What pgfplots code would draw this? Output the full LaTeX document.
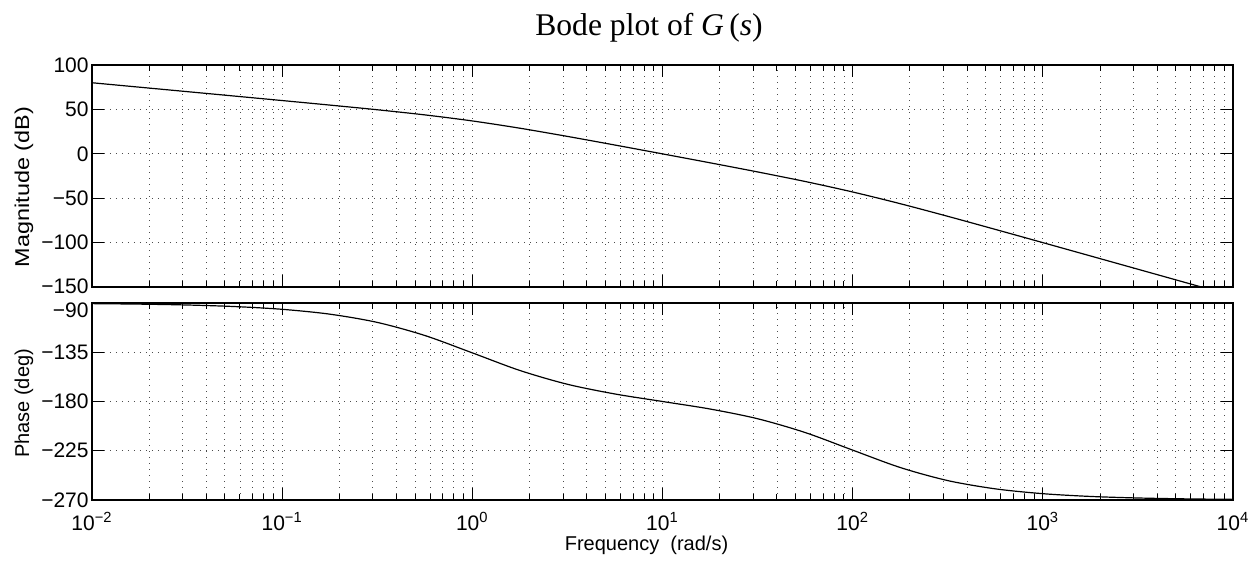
\documentclass[border=0pt]{standalone}
\usepackage{pgfplots}
\pgfplotsset{compat=1.18}
\usepackage{fontspec}
\setmainfont{Liberation Sans}
\newfontfamily\seriffont{Liberation Serif}
\usepackage{graphicx}

\pgfplotsset{
  every axis/.append style={
    scale only axis, width=570.5pt, xmin=0.01, xmax=10000,
    xtick={0.01,0.1,1,10,100,1000,10000},
    xmajorgrids, xminorgrids, ymajorgrids,
    grid style={black!70, line width=0.45pt, dash pattern=on 0.5pt off 2.5pt},
    major tick length=6pt, minor tick length=3pt,
    tick align=inside, tick pos=both,
    axis line style={line width=0.6pt},
    every tick/.style={black, line width=0.5pt},
    tick label style={font=\fontsize{10.5}{12}\selectfont},
    yticklabel style={inner sep=1.5pt},
    label style={font=\fontsize{10.4}{12}\selectfont},
  }
}

\begin{document}
\begin{tikzpicture}[x=1pt,y=1pt]
\useasboundingbox (0,0) rectangle (628.5,280.5);

\node[anchor=base, font=\seriffont\fontsize{15.8}{18}\selectfont] at (324.5,262.7) {Bode plot of \textit{G}\,(\textit{s})};

\begin{semilogxaxis}[at={(46pt,137pt)}, anchor=south west, height=111pt,
  ymin=-150, ymax=100, ytick={-150,-100,-50,0,50,100},
  yticklabels={\raisebox{-3.2pt}[0pt][0pt]{−150},−100,−50,0,50,100},
  xticklabels={},
  ylabel={\scalebox{1.17}[1]{Magnitude (dB)}},
  every axis y label/.style={at={(axis description cs:-0.0596,0.45)}, rotate=90, anchor=center},
]
\addplot[black, line width=0.6pt, smooth, mark=none] coordinates {
(0.01,80.00)
(0.017783,75.00)
(0.031623,70.00)
(0.056234,64.99)
(0.1,59.96)
(0.17783,54.86)
(0.31623,49.59)
(0.56234,43.81)
(1,36.99)
(1.7783,28.81)
(3.1623,19.58)
(5.6234,9.85)
(10,-0.09)
(17.783,-10.15)
(31.623,-20.42)
(56.234,-31.19)
(100,-43.01)
(177.83,-56.19)
(316.23,-70.41)
(562.34,-85.14)
(1000,-100.04)
(1778.3,-115.01)
(3162.3,-130.00)
(5623.4,-145.00)
(10000,-160.00)
};
\end{semilogxaxis}

\begin{semilogxaxis}[at={(46pt,30.5pt)}, anchor=south west, height=98.5pt,
  ymin=-270, ymax=-90, ytick={-270,-225,-180,-135,-90},
  yticklabels={−270,−225,−180,−135,\raisebox{-7.5pt}[0pt][0pt]{−90}},
  xticklabels={10\textsuperscript{−2},10\textsuperscript{−1},10\textsuperscript{0},10\textsuperscript{1},10\textsuperscript{2},10\textsuperscript{3},10\textsuperscript{4}},
  xticklabel style={anchor=base, yshift=-15.3pt},
  ylabel={Phase (deg)},
  every axis y label/.style={at={(axis description cs:-0.0596,0.49)}, rotate=90, anchor=center},
  xlabel={Frequency\ \ (rad/s)},
  every axis x label/.style={at={(axis description cs:0.486,-0.254)}, anchor=base},
]
\addplot[black, line width=0.6pt, smooth, mark=none] coordinates {
(0.01,-90.58)
(0.017783,-91.03)
(0.031623,-91.83)
(0.056234,-93.25)
(0.1,-95.77)
(0.17783,-100.19)
(0.31623,-107.73)
(0.56234,-119.68)
(1,-135.57)
(1.7783,-151.66)
(3.1623,-164.26)
(5.6234,-173.13)
(10,-180.00)
(17.783,-186.87)
(31.623,-195.74)
(56.234,-208.34)
(100,-224.43)
(177.83,-240.32)
(316.23,-252.27)
(562.34,-259.81)
(1000,-264.23)
(1778.3,-266.75)
(3162.3,-268.17)
(5623.4,-268.97)
(10000,-269.42)
};
\end{semilogxaxis}
\end{tikzpicture}
\end{document}
